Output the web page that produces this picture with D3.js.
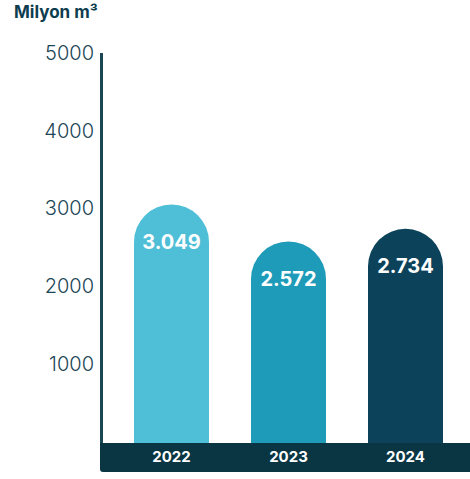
<!DOCTYPE html>
<html>
<head>
<meta charset="utf-8">
<script src="https://cdn.jsdelivr.net/npm/d3@7"></script>
<style>
  html, body { margin: 0; padding: 0; background: #fff; }
  svg { display: block; font-family: Inter, "Open Sans", sans-serif; }
</style>
</head>
<body>
<div id="chart"></div>
<script>
// sizes
const width = 470;
const height = 479;

// data
const years = ["2022", "2023", "2024"];
const values = [3049, 2572, 2734];
const valueLabels = ["3.049", "2.572", "2.734"];
const barColors = ["#4fbed7", "#1e9bb8", "#0c435b"];
const yTicks = [1000, 2000, 3000, 4000, 5000];

const data = years.map((d, i) => ({year: d, value: values[i], label: valueLabels[i], color: barColors[i]}));

// scales
var x_scale = d3.scaleBand()
    .domain(years)
    .range([92, 485])
    .paddingInner(0.359)
    .paddingOuter(0.359);

var y_scale = d3.scaleLinear()
    .domain([0, 5000])
    .range([441, 53]);

var svg = d3.select("#chart")
    .append("svg")
    .attr("width", width)
    .attr("height", height);

// title
svg.append("text")
    .attr("x", 14)
    .attr("y", 18)
    .attr("fill", "#0d3d4f")
    .attr("font-size", 17)
    .attr("font-weight", 700)
    .text("Milyon m³");

// y axis labels
svg.selectAll(".ytick")
    .data(yTicks)
    .enter()
    .append("text")
    .attr("class", "ytick")
    .attr("x", 94)
    .attr("y", d => y_scale(d))
    .attr("dy", "0.36em")
    .attr("text-anchor", "end")
    .attr("fill", "#1b4656")
    .attr("font-size", 20)
    .attr("font-weight", 300)
    .text(d => d);

// bars with round top
const bw = x_scale.bandwidth();
const r = bw / 2;
const base = 445;

svg.selectAll(".bar")
    .data(data)
    .enter()
    .append("path")
    .attr("class", "bar")
    .attr("fill", d => d.color)
    .attr("d", d => {
        const x = x_scale(d.year);
        const top = y_scale(d.value);
        return `M${x},${base} L${x},${top + r} A${r},${r} 0 0 1 ${x + bw},${top + r} L${x + bw},${base} Z`;
    });

svg.selectAll(".val")
    .data(data)
    .enter()
    .append("text")
    .attr("class", "val")
    .attr("x", d => x_scale(d.year) + bw / 2)
    .attr("y", d => y_scale(d.value) + 37)
    .attr("dy", "0.36em")
    .attr("text-anchor", "middle")
    .attr("fill", "#fff")
    .attr("font-size", 20)
    .attr("font-weight", 700)
    .text(d => d.label);

// axis line
svg.append("line")
    .attr("x1", 101.5)
    .attr("x2", 101.5)
    .attr("y1", 53)
    .attr("y2", 445)
    .attr("stroke", "#1b4656")
    .attr("stroke-width", 3);

// bottom band
svg.append("path")
    .attr("fill", "#0a3643")
    .attr("d", "M100,443 L470,443 L470,472 L103,472 Q100,472 100,469 Z");

svg.selectAll(".year")
    .data(years)
    .enter()
    .append("text")
    .attr("class", "year")
    .attr("x", d => x_scale(d) + bw / 2)
    .attr("y", 457)
    .attr("dy", "0.36em")
    .attr("text-anchor", "middle")
    .attr("fill", "#fff")
    .attr("font-size", 15)
    .attr("font-weight", 700)
    .text(d => d);
</script>
</body>
</html>
